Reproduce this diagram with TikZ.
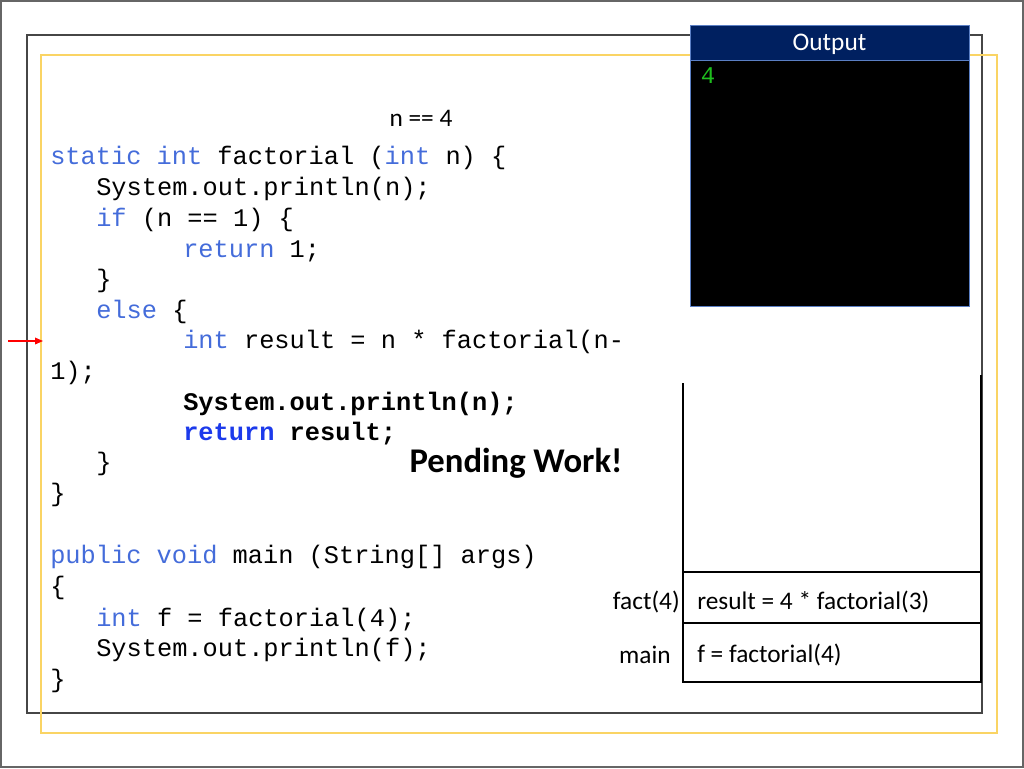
\documentclass[tikz,border=0pt]{standalone}
\usepackage{fontspec}
\usetikzlibrary{arrows.meta}
\setmainfont{Carlito}
\newfontfamily\codefont{Liberation Mono}
\definecolor{kwblue}{RGB}{68,108,218}
\definecolor{retblue}{RGB}{28,58,235}
\definecolor{navyhead}{RGB}{0,32,96}
\definecolor{boxblue}{RGB}{91,127,196}
\definecolor{framegray}{RGB}{70,70,70}
\definecolor{goldline}{RGB}{250,212,100}
\definecolor{outgreen}{RGB}{30,190,30}
\newcommand{\kw}[1]{{\color{kwblue}#1}}
\begin{document}
\begin{tikzpicture}[x=0.75pt,y=-0.75pt,
    code/.style={anchor=west,inner sep=0pt,font=\codefont\fontsize{19}{20}\selectfont,text height=14pt,text depth=3pt},
    boldcode/.style={code,font=\codefont\bfseries\fontsize{19}{20}\selectfont},
    label/.style={inner sep=0pt,font=\fontsize{19}{21}\selectfont},
    stack/.style={line width=1.5pt}]
    \useasboundingbox (0,0) rectangle (1024,768);
    \draw[gray!80!black, line width=1pt] (1,1) rectangle (1023,767);
    \draw[framegray, line width=1.5pt] (27,35) rectangle (982,713);
    \draw[goldline, line width=1.5pt] (41,55) rectangle (997,733);

    % output window
    \draw[fill=black, draw=boxblue] (690,25) rectangle (969,306);
    \draw[fill=navyhead, draw=boxblue] (690,25) rectangle (969,60);
    \node[label, white] (outtitle) at (829.5,44) {Output};
    \node[inner sep=0pt, outgreen, font=\codefont\fontsize{18}{20}\selectfont] (outval) at (708,76) {4};

    \node[label] (ncheck) at (421,118) {n == 4};

    % code
    \node[code] (sig) at (50,157) {\kw{static int} factorial (\kw{int} n) \{};
    \node[code] (pr1) at (96,188) {System.out.println(n);};
    \node[code] (iff) at (96,219) {\kw{if} (n == 1) \{};
    \node[code] (ret1) at (183,250) {\kw{return} 1;};
    \node[code] (cl1) at (96,280) {\}};
    \node[code] (els) at (96,311) {\kw{else} \{};
    \node[code] (res) at (183,341) {\kw{int} result = n * factorial(n-};
    \node[code] (res2) at (50,372) {1);};
    \node[boldcode] (pr2) at (183,403) {System.out.println(n);};
    \node[boldcode] (ret2) at (183,433) {{\color{retblue}return} result;};
    \node[code] (cl2) at (96,463) {\}};
    \node[code] (cl3) at (50,494) {\}};
    \node[code] (msig) at (50,556) {\kw{public void} main (String[] args)};
    \node[code] (mop) at (50,587) {\{};
    \node[code] (mf) at (96,619) {\kw{int} f = factorial(4);};
    \node[code] (mpr) at (96,649) {System.out.println(f);};
    \node[code] (mcl) at (50,680) {\}};

    \node[inner sep=0pt, font=\bfseries\fontsize{26}{28}\selectfont] (pending) at (516,463) {Pending Work!};

    % current line marker
    \coordinate (mtail) at (8,341);
    \coordinate (mtip) at (43,341);
    \draw[red, line width=1pt, -{Triangle[length=6pt,width=5pt]}] (mtail) -- (mtip);

    % call stack
    \draw[stack] (683,383) -- (683,682) -- (981,682) -- (981,375);
    \draw[stack] (683,572) -- (981,572);
    \draw[stack] (683,623) -- (981,623);
    \node[label, anchor=east] (factlbl) at (680,602) {fact(4)};
    \node[label, anchor=east] (mainlbl) at (671,655) {main};
    \node[label, anchor=west] (factvar) at (697,602) {result = 4 * factorial(3)};
    \node[label, anchor=west] (mainvar) at (697,655) {f = factorial(4)};
\end{tikzpicture}
\end{document}
